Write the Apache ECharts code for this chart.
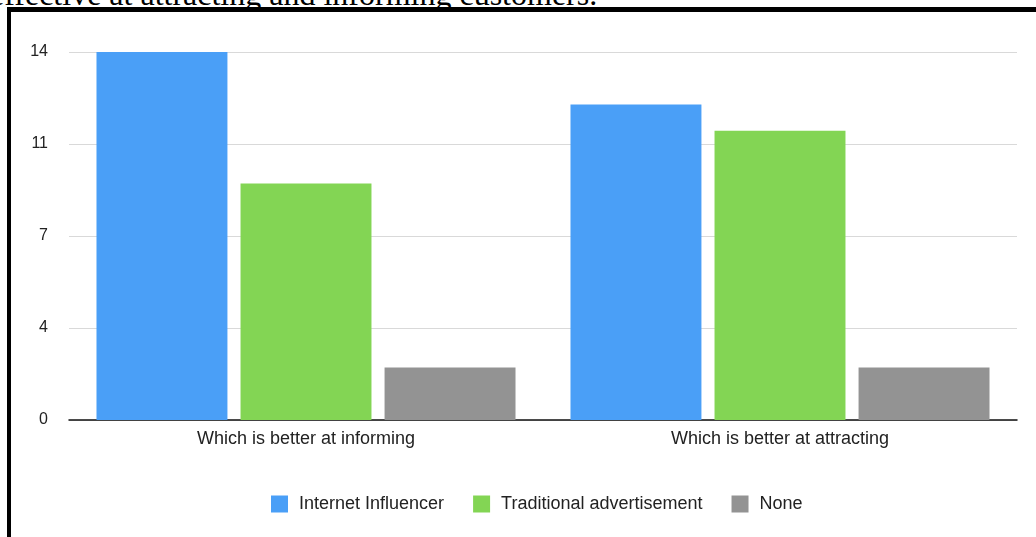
<!DOCTYPE html>
<html>
<head>
<meta charset="utf-8">
<script src="https://cdn.jsdelivr.net/npm/echarts@6/dist/echarts.min.js"></script>
<style>
  html, body { margin: 0; padding: 0; background: #fff; width: 1036px; height: 537px; overflow: hidden; }
  #caption { position: absolute; left: -10px; top: -22px; font-family: "Liberation Serif", "Times New Roman", serif; font-size: 32px; line-height: 32px; color: #000; white-space: nowrap; }
  #frame { position: absolute; left: 7px; top: 7px; width: 1040px; height: 540px; border-top: 5px solid #000; border-left: 4px solid #000; box-sizing: border-box; pointer-events: none; }
  #chart { position: absolute; left: 0; top: 0; width: 1036px; height: 537px; }
</style>
</head>
<body>
<div id="caption">effective at attracting and informing customers.</div>
<div id="chart"></div>
<div id="frame"></div>
<script>
const categories = ['Which is better at informing', 'Which is better at attracting'];
const seriesNames = ['Internet Influencer', 'Traditional advertisement', 'None'];
const influencerValues = [14, 12];
const traditionalValues = [9, 11];
const noneValues = [2, 2];
const colors = ['#4a9ff7', '#83d554', '#939393'];

const chart = echarts.init(document.getElementById('chart'), null, { renderer: 'canvas' });
const font = '"Liberation Sans", Arial, Helvetica, sans-serif';
const values = [influencerValues, traditionalValues, noneValues];

chart.setOption({
  animation: false,
  backgroundColor: 'transparent',
  color: colors,
  grid: { left: 69, right: 19, top: 52, bottom: 117, containLabel: false },
  legend: {
    data: seriesNames,
    bottom: 19,
    left: 266,
    itemWidth: 17,
    itemHeight: 17,
    itemGap: 29,
    icon: 'rect',
    textStyle: { fontFamily: font, fontSize: 18, color: '#222', padding: [0, 0, 0, 6] }
  },
  xAxis: {
    type: 'category',
    data: categories,
    axisLine: { lineStyle: { color: '#111', width: 1.5 } },
    axisTick: { show: false },
    axisLabel: { fontFamily: font, fontSize: 18, color: '#222', margin: 10 }
  },
  yAxis: {
    type: 'value',
    min: 0,
    max: 14,
    interval: 3.5,
    axisLine: { show: false },
    axisTick: { show: false },
    splitLine: { lineStyle: { color: '#d9d9d9', width: 1 } },
    axisLabel: {
      fontFamily: font, fontSize: 16, color: '#222', margin: 21,
      formatter: v => String(Math.round(v))
    }
  },
  series: seriesNames.map((name, i) => ({
    name: name,
    type: 'bar',
    data: values[i],
    barGap: '10%',
    barCategoryGap: '11.6%',
    itemStyle: { color: colors[i] }
  }))
});
</script>
</body>
</html>
